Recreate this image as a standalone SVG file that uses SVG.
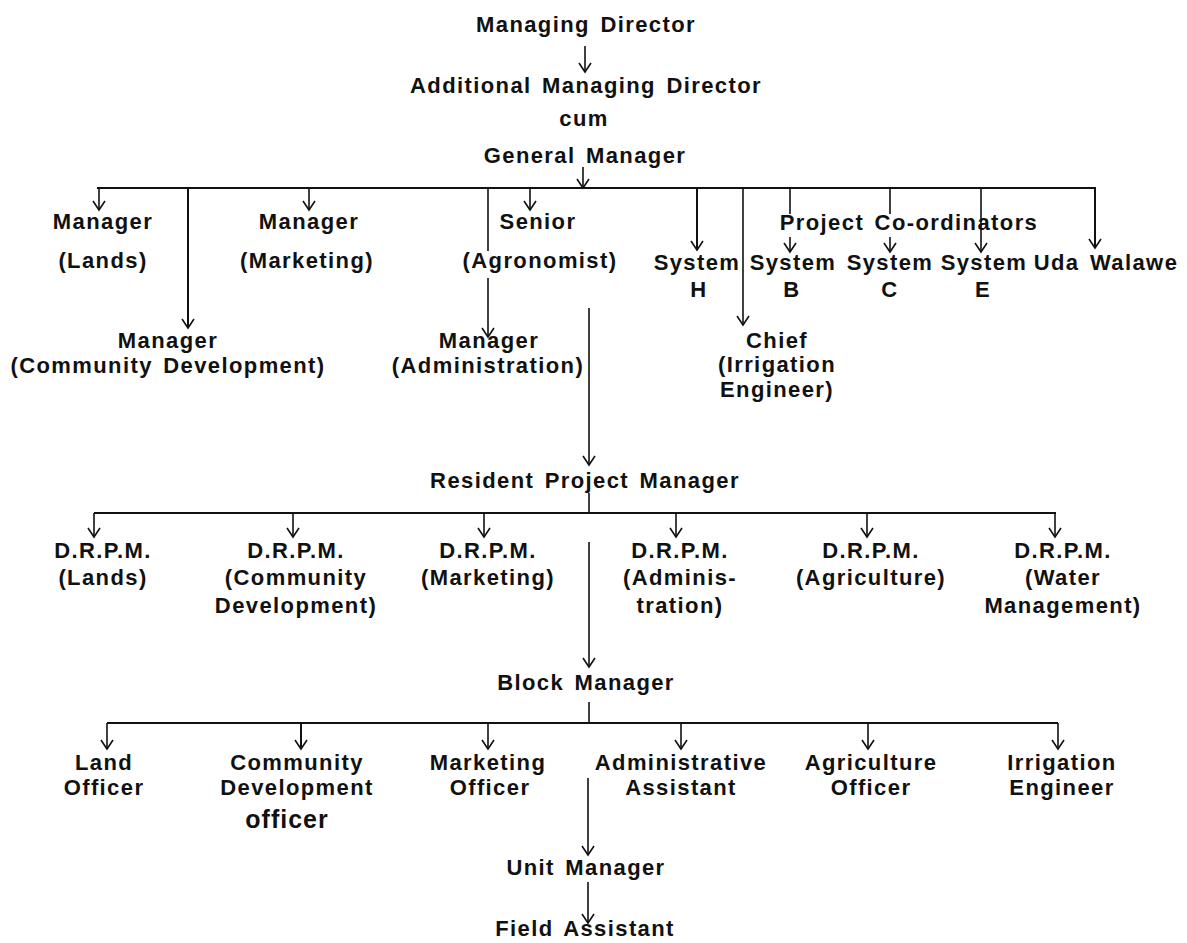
<svg xmlns="http://www.w3.org/2000/svg" width="1187" height="943" viewBox="0 0 1187 943">
<defs>
<style>
.t{font-family:"Liberation Sans",Arial,Helvetica,sans-serif;font-weight:bold;font-size:22px;letter-spacing:1.4px;word-spacing:3px;fill:#111;text-anchor:middle}
.c{stroke:#111;stroke-width:1.6;fill:none}
.h{stroke:#111;stroke-width:2;fill:none}
</style>
<marker id="a" viewBox="0 0 12 14" refX="10" refY="7" markerWidth="12" markerHeight="14" markerUnits="userSpaceOnUse" orient="auto">
<path d="M1,1 L10,7 L1,13" fill="none" stroke="#111" stroke-width="1.6"/>
</marker>
</defs>
<rect width="1187" height="943" fill="#fff"/>

<g id="connectors">
<line class="c" x1="585" y1="46" x2="585" y2="72" marker-end="url(#a)"/>
<line class="c" x1="583" y1="167" x2="583" y2="188" marker-end="url(#a)"/>
<line class="h" x1="97" y1="188" x2="1096" y2="188"/>
<line class="c" x1="99" y1="188" x2="99" y2="210" marker-end="url(#a)"/>
<line class="h" x1="188" y1="188" x2="188" y2="328" marker-end="url(#a)"/>
<line class="c" x1="309" y1="188" x2="309" y2="210" marker-end="url(#a)"/>
<line class="c" x1="488" y1="188" x2="488" y2="251"/>
<line class="c" x1="488" y1="278" x2="488" y2="337" marker-end="url(#a)"/>
<line class="c" x1="530" y1="188" x2="530" y2="210" marker-end="url(#a)"/>
<line class="h" x1="697" y1="188" x2="697" y2="250" marker-end="url(#a)"/>
<line class="c" x1="743" y1="188" x2="743" y2="325" marker-end="url(#a)"/>
<line class="c" x1="790" y1="188" x2="790" y2="214"/>
<line class="c" x1="790" y1="237" x2="790" y2="252" marker-end="url(#a)"/>
<line class="c" x1="890" y1="188" x2="890" y2="214"/>
<line class="c" x1="890" y1="237" x2="890" y2="252" marker-end="url(#a)"/>
<line class="c" x1="981" y1="188" x2="981" y2="252" marker-end="url(#a)"/>
<line class="h" x1="1095" y1="188" x2="1095" y2="248" marker-end="url(#a)"/>
<line class="c" x1="589" y1="308" x2="589" y2="465" marker-end="url(#a)"/>
<line class="c" x1="589" y1="493" x2="589" y2="513"/>
<line class="h" x1="94" y1="513" x2="1056" y2="513"/>
<line class="c" x1="94" y1="513" x2="94" y2="537" marker-end="url(#a)"/>
<line class="c" x1="293" y1="513" x2="293" y2="537" marker-end="url(#a)"/>
<line class="c" x1="484" y1="513" x2="484" y2="537" marker-end="url(#a)"/>
<line class="c" x1="676" y1="513" x2="676" y2="537" marker-end="url(#a)"/>
<line class="c" x1="867" y1="513" x2="867" y2="537" marker-end="url(#a)"/>
<line class="c" x1="1055" y1="513" x2="1055" y2="537" marker-end="url(#a)"/>
<line class="c" x1="589" y1="542" x2="589" y2="667" marker-end="url(#a)"/>
<line class="c" x1="589" y1="702" x2="589" y2="723"/>
<line class="h" x1="107" y1="723" x2="1058" y2="723"/>
<line class="c" x1="107" y1="723" x2="107" y2="749" marker-end="url(#a)"/>
<line class="h" x1="301" y1="723" x2="301" y2="749" marker-end="url(#a)"/>
<line class="c" x1="488" y1="723" x2="488" y2="749" marker-end="url(#a)"/>
<line class="c" x1="681" y1="723" x2="681" y2="749" marker-end="url(#a)"/>
<line class="c" x1="868" y1="723" x2="868" y2="749" marker-end="url(#a)"/>
<line class="c" x1="1058" y1="723" x2="1058" y2="749" marker-end="url(#a)"/>
<line class="c" x1="588" y1="778" x2="588" y2="855" marker-end="url(#a)"/>
<line class="c" x1="588" y1="882" x2="588" y2="923" marker-end="url(#a)"/>
</g>

<g id="md"><text class="t" x="586" y="32">Managing Director</text></g>
<g id="amd"><text class="t" x="586" y="93">Additional Managing Director</text>
<text class="t" x="584" y="126">cum</text>
<text class="t" x="585" y="163">General Manager</text></g>

<g id="mgr-lands"><text class="t" x="103" y="229">Manager</text><text class="t" x="103" y="268">(Lands)</text></g>
<g id="mgr-cd"><text class="t" x="168" y="348">Manager</text><text class="t" x="168" y="373">(Community Development)</text></g>
<g id="mgr-mkt"><text class="t" x="309" y="229">Manager</text><text class="t" x="307" y="268">(Marketing)</text></g>
<g id="mgr-admin"><text class="t" x="489" y="348">Manager</text><text class="t" x="488" y="373">(Administration)</text></g>
<g id="sr-agro"><text class="t" x="538" y="229">Senior</text><text class="t" x="540" y="268">(Agronomist)</text></g>
<g id="chief-ie"><text class="t" x="777" y="348">Chief</text><text class="t" x="777" y="372">(Irrigation</text><text class="t" x="777" y="397">Engineer)</text></g>
<g id="proj-coord"><text class="t" x="909" y="230">Project  Co-ordinators</text></g>
<g id="sys-h"><text class="t" x="697" y="270">System</text><text class="t" x="699" y="297">H</text></g>
<g id="sys-b"><text class="t" x="793" y="270">System</text><text class="t" x="792" y="297">B</text></g>
<g id="sys-c"><text class="t" x="890" y="270">System</text><text class="t" x="890" y="297">C</text></g>
<g id="sys-e"><text class="t" x="984" y="270">System</text><text class="t" x="983" y="297">E</text></g>
<g id="uda"><text class="t" x="1106" y="270">Uda Walawe</text></g>

<g id="rpm"><text class="t" x="585" y="488">Resident Project Manager</text></g>
<g id="drpm-lands"><text class="t" x="103" y="558">D.R.P.M.</text><text class="t" x="103" y="585">(Lands)</text></g>
<g id="drpm-cd"><text class="t" x="296" y="558">D.R.P.M.</text><text class="t" x="296" y="585">(Community</text><text class="t" x="296" y="613">Development)</text></g>
<g id="drpm-mkt"><text class="t" x="488" y="558">D.R.P.M.</text><text class="t" x="488" y="585">(Marketing)</text></g>
<g id="drpm-admin"><text class="t" x="680" y="558">D.R.P.M.</text><text class="t" x="680" y="585">(Adminis-</text><text class="t" x="680" y="613">tration)</text></g>
<g id="drpm-agri"><text class="t" x="871" y="558">D.R.P.M.</text><text class="t" x="871" y="585">(Agriculture)</text></g>
<g id="drpm-water"><text class="t" x="1063" y="558">D.R.P.M.</text><text class="t" x="1063" y="585">(Water</text><text class="t" x="1063" y="613">Management)</text></g>

<g id="block"><text class="t" x="586" y="690">Block Manager</text></g>
<g id="land-off"><text class="t" x="104" y="770">Land</text><text class="t" x="104" y="795">Officer</text></g>
<g id="cd-off"><text class="t" x="297" y="770">Community</text><text class="t" x="297" y="795">Development</text><text class="t" x="287" y="828" style="font-size:25px;letter-spacing:1px">officer</text></g>
<g id="mkt-off"><text class="t" x="488" y="770">Marketing</text><text class="t" x="490" y="795">Officer</text></g>
<g id="adm-asst"><text class="t" x="681" y="770">Administrative</text><text class="t" x="681" y="795">Assistant</text></g>
<g id="agri-off"><text class="t" x="871" y="770">Agriculture</text><text class="t" x="871" y="795">Officer</text></g>
<g id="irr-eng"><text class="t" x="1062" y="770">Irrigation</text><text class="t" x="1062" y="795">Engineer</text></g>
<g id="unit"><text class="t" x="586" y="875">Unit Manager</text></g>
<g id="field"><text class="t" x="585" y="936">Field Assistant</text></g>
</svg>
